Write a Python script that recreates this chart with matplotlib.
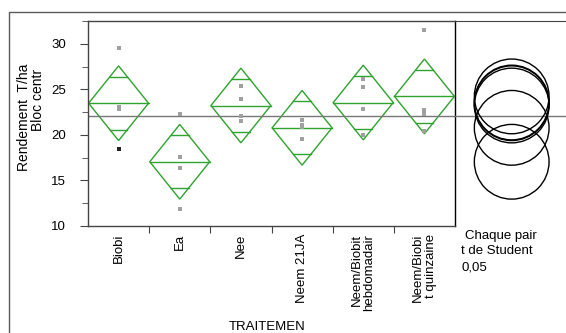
import matplotlib
matplotlib.use("Agg")
import matplotlib.pyplot as plt
import numpy as np
from matplotlib.patches import Circle, Polygon, Rectangle

plt.rcParams["font.family"] = ["Liberation Sans", "DejaVu Sans"]

# Block-centred yield (T/ha), four plots per treatment
groups = ["Biobi", "Ea", "Nee", "Neem 21JA",
          "Neem/Biobit\nhebdomadair", "Neem/Biobi\nt quinzaine"]
obs = [
    [29.5, 23.1, 22.8, 18.5],
    [22.3, 17.6, 16.4, 11.9],
    [25.4, 23.9, 22.1, 21.5],
    [21.65, 21.1, 20.85, 19.5],
    [26.1, 25.3, 22.8, 20.0],
    [31.5, 22.7, 22.3, 20.4],
]
dark_obs = [(0, 18.5)]          # overplotted points drawn darker
ci_half = [4.1, 4.1, 4.1, 4.1, 4.1, 4.1]   # 95% CI half-width (pooled)

means = [np.mean(v) for v in obs]
grand_mean = np.mean(np.concatenate(obs))

W, H, DPI = 566, 333, 100
fig = plt.figure(figsize=(W / DPI, H / DPI), dpi=DPI)

def fx(px):
    return px / W

def fy(py):
    return 1 - py / H

green = "#2ea32e"
axcol = "#444444"

# outer frame
fig.patches.append(Rectangle((fx(9), fy(345)), fx(600), fy(12) - fy(345),
                             transform=fig.transFigure, fill=False,
                             edgecolor="#5a5a5a", lw=1.0))

left, right, top, bottom = 88, 455, 21, 226
ax = fig.add_axes([fx(left), fy(bottom), fx(right - left), fy(top) - fy(bottom)])
ax.set_xlim(-0.5, len(groups) - 0.5)
ax.set_ylim(10, 32.5)

for i, (m, h) in enumerate(zip(means, ci_half)):
    hw = 0.49
    ax.add_patch(Polygon([(i - hw, m), (i, m + h), (i + hw, m), (i, m - h)],
                         closed=True, fill=False, edgecolor=green, lw=1.0))
    ax.plot([i - hw, i + hw], [m, m], color=green, lw=1.0)
    d = h / np.sqrt(2)
    ow = hw * (1 - d / h)
    for s in (1, -1):
        ax.plot([i - ow, i + ow], [m + s * d, m + s * d], color=green, lw=1.0)
    pts = [v for v in obs[i] if (i, v) not in dark_obs]
    ax.scatter([i] * len(pts), pts, s=5, marker="s", color="#a0a0a0",
               linewidths=0, zorder=3)
for i, v in dark_obs:
    ax.scatter([i], [v], s=5, marker="s", color="#222222", linewidths=0, zorder=3)

ax.axhline(grand_mean, color="#777777", lw=1.0, zorder=1)

ax.set_yticks([10, 15, 20, 25, 30])
ax.set_yticks(np.arange(12.5, 33, 5), minor=True)
ax.tick_params(axis="y", which="major", length=6, pad=10, labelsize=9.5,
               color=axcol, labelcolor="black")
ax.tick_params(axis="y", which="minor", length=4, color=axcol)
ax.set_xticks(np.arange(0.5, len(groups) - 1, 1.0))
ax.set_xticklabels([])
ax.tick_params(axis="x", length=5, color=axcol)
for sp in ("left", "bottom", "top"):
    ax.spines[sp].set_color(axcol)
ax.spines["right"].set_color("black")
for sp in ax.spines.values():
    sp.set_linewidth(1.0)

for i, g in enumerate(groups):
    ax.annotate(g, xy=(i, 10), xycoords="data", xytext=(0, -8),
                textcoords="offset pixels", rotation=90, ha="center", va="top",
                multialignment="right", fontsize=9.5, linespacing=1.05)

fig.text(fx(267), fy(327), "TRAITEMEN", ha="center", va="center", fontsize=9.5)
fig.text(fx(24), fy(117), "Rendement  T/ha", rotation=90, ha="center",
         va="center", fontsize=10)
fig.text(fx(38), fy(100), "Bloc centr", rotation=90, ha="center",
         va="center", fontsize=10)

# comparison circles panel
px_per_unit = (bottom - top) / 22.5
pw = 130
cax = fig.add_axes([fx(right), fy(bottom), fx(pw), fy(top) - fy(bottom)])
cax.set_xlim(0, pw / px_per_unit)
cax.set_ylim(10, 32.5)
cx = (511.7 - right) / px_per_unit
for m, h in zip(means, ci_half):
    cax.add_patch(Circle((cx, m), h, fill=False, edgecolor="black", lw=1.0))
cax.axhline(grand_mean, color="#777777", lw=1.0, zorder=0)
cax.set_xticks([])
cax.set_yticks([])
for sp in ("left", "bottom", "right"):
    cax.spines[sp].set_visible(False)
cax.spines["top"].set_color(axcol)
cax.patch.set_alpha(0)

fig.text(fx(465), fy(236), "Chaque pair", ha="left", va="center", fontsize=9.5)
fig.text(fx(461), fy(251), "t de Student", ha="left", va="center", fontsize=9.5)
fig.text(fx(461), fy(267), "0,05", ha="left", va="center", fontsize=9.5)

fig.savefig("out.png", dpi=DPI)
